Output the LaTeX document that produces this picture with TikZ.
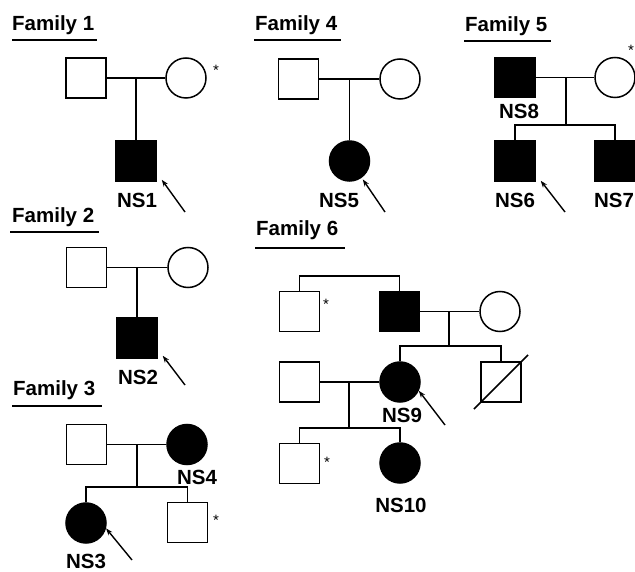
\documentclass[tikz,border=0pt]{standalone}
\usepackage{fontspec}
\setmainfont{Liberation Sans}
\usetikzlibrary{arrows.meta}

\begin{document}
\begin{tikzpicture}[x=1pt, y=-1pt,
    male/.style={rectangle, draw, line width=1.5pt, minimum size=40pt, inner sep=0pt},
    female/.style={circle, draw, line width=1.5pt, minimum size=40pt, inner sep=0pt},
    aff/.style={fill=black},
    line/.style={line width=1.5pt},
    arr/.style={-{Stealth[length=7pt,width=5pt]}, line width=1.4pt},
    ttl/.style={anchor=base west, inner sep=0pt, font=\fontsize{20.5}{24}\selectfont\bfseries},
    lbl/.style={inner sep=0pt, font=\fontsize{20.5}{24}\selectfont\bfseries},
    star/.style={anchor=base, inner sep=0pt, font=\fontsize{15}{17}\selectfont},
  ]

  \useasboundingbox (0,0) rectangle (635,572);

  % Family 1
  \node[ttl] (f1t) at (12,31) {Family 1};
  \draw[line] ([yshift=-9pt]f1t.base west) -- ([xshift=3pt,yshift=-9pt]f1t.base east);
  \node[male] (f1dad) at (86,78) {};
  \node[female] (f1mom) at (186,78) {};
  \node[star] (f1star) at (216,76) {*};
  \node[male, aff] (f1kid) at (136,161) {};
  \node[lbl] (f1lbl) at (137,200) {NS1};
  \coordinate (f1m) at (136,78);
  \coordinate (f1p) at (185,212);
  \draw[line] (f1dad) -- (f1mom);
  \draw[line] (f1m) -- (f1kid);
  \draw[arr] (f1p) -- ([shift={(5,-2)}]f1kid.south east);

  % Family 4
  \node[ttl] (f4t) at (255,31) {Family 4};
  \draw[line] ([xshift=-1pt,yshift=-9pt]f4t.base west) -- ([xshift=4pt,yshift=-9pt]f4t.base east);
  \node[male] (f4dad) at (298.5,79) {};
  \node[female] (f4mom) at (400,79) {};
  \node[female, aff] (f4kid) at (349.5,161) {};
  \node[lbl] (f4lbl) at (339,200) {NS5};
  \coordinate (f4m) at (349.5,79);
  \coordinate (f4p) at (385,212);
  \draw[line] (f4dad) -- (f4mom);
  \draw[line] (f4m) -- (f4kid);
  \draw[arr, shorten >=2pt] (f4p) -- (f4kid.-54);

  % Family 5
  \node[ttl] (f5t) at (465,32) {Family 5};
  \draw[line] ([xshift=-1pt,yshift=-9pt]f5t.base west) -- ([xshift=4pt,yshift=-9pt]f5t.base east);
  \node[male, aff] (f5dad) at (515,77.5) {};
  \node[female] (f5mom) at (615,77.5) {};
  \node[star] (f5star) at (631,56) {*};
  \node[lbl] (f5dlbl) at (519,111) {NS8};
  \coordinate (f5m) at (566,77.5);
  \coordinate (f5s) at (566,125);
  \node[male, aff] (f5a) at (515,161) {};
  \node[male, aff] (f5b) at (615,161) {};
  \node[lbl] (f5albl) at (515,200) {NS6};
  \node[lbl] (f5blbl) at (614,200) {NS7};
  \coordinate (f5p) at (565,212);
  \draw[line] (f5dad) -- (f5mom);
  \draw[line] (f5m) -- (f5s);
  \draw[line] (f5a) |- (f5s) -| (f5b);
  \draw[arr] (f5p) -- ([shift={(5,-1)}]f5a.south east);

  % Family 2
  \node[ttl] (f2t) at (12,223) {Family 2};
  \draw[line] ([xshift=-2pt,yshift=-9pt]f2t.base west) -- ([xshift=5pt,yshift=-9pt]f2t.base east);
  \node[male] (f2dad) at (86.5,267.5) {};
  \node[female] (f2mom) at (188,267.5) {};
  \node[male, aff] (f2kid) at (137,338) {};
  \node[lbl] (f2lbl) at (138,377) {NS2};
  \coordinate (f2m) at (137,267.5);
  \coordinate (f2p) at (185,385);
  \draw[line] (f2dad) -- (f2mom);
  \draw[line] (f2m) -- (f2kid);
  \draw[arr] (f2p) -- ([shift={(5,-3)}]f2kid.south east);

  % Family 3
  \node[ttl] (f3t) at (13,395) {Family 3};
  \draw[line] ([xshift=-1pt,yshift=-11pt]f3t.base west) -- ([xshift=7pt,yshift=-11pt]f3t.base east);
  \node[male] (f3dad) at (86.5,444.5) {};
  \node[female, aff] (f3mom) at (187,444.5) {};
  \node[lbl] (f3mlbl) at (197,477) {NS4};
  \coordinate (f3m) at (137,444.5);
  \coordinate (f3s) at (137,487);
  \node[female, aff] (f3a) at (86,523) {};
  \node[male] (f3b) at (187.5,522.5) {};
  \node[star] (f3star) at (216,525) {*};
  \node[lbl] (f3albl) at (86,561) {NS3};
  \coordinate (f3p) at (132,560);
  \draw[line] (f3dad) -- (f3mom);
  \draw[line] (f3m) -- (f3s);
  \draw[line] (f3a) |- (f3s) -| (f3b);
  \draw[arr] (f3p) -- (f3a.-15);

  % Family 6
  \node[ttl] (f6t) at (256,236) {Family 6};
  \draw[line] ([xshift=-1pt,yshift=-12pt]f6t.base west) -- ([xshift=7pt,yshift=-12pt]f6t.base east);
  \node[male] (f6a) at (299.5,311.5) {};
  \node[star] (f6astar) at (326,309) {*};
  \node[male, aff] (f6b) at (399.5,311.5) {};
  \node[female] (f6c) at (500,311.5) {};
  \coordinate (f6top) at (350,276);
  \coordinate (f6m) at (449,311.5);
  \coordinate (f6s) at (449,346);
  \draw[line] (f6a) |- (f6top) -| (f6b);
  \draw[line] (f6b) -- (f6c);
  \draw[line] (f6m) -- (f6s);

  \node[male] (f6d) at (299.5,382) {};
  \node[female, aff] (f6e) at (400,382) {};
  \node[male] (f6f) at (501,382) {};
  \node[lbl] (f6elbl) at (402,415) {NS9};
  \coordinate (f6m2) at (349,382);
  \coordinate (f6s2) at (349,428);
  \coordinate (f6p) at (445,425);
  \draw[line] (f6e) |- (f6s) -| (f6f);
  \draw[line, shorten <=-9pt, shorten >=-9pt] (f6f.south west) -- (f6f.north east);
  \draw[line] (f6d) -- (f6e);
  \draw[line] (f6m2) -- (f6s2);
  \draw[arr] (f6p) -- (f6e.-25);

  \node[male] (f6g) at (299.5,463.5) {};
  \node[star] (f6gstar) at (327,467) {*};
  \node[female, aff] (f6h) at (400,463) {};
  \node[lbl] (f6hlbl) at (401,505) {NS10};
  \draw[line] (f6g) |- (f6s2) -| (f6h);

\end{tikzpicture}
\end{document}
